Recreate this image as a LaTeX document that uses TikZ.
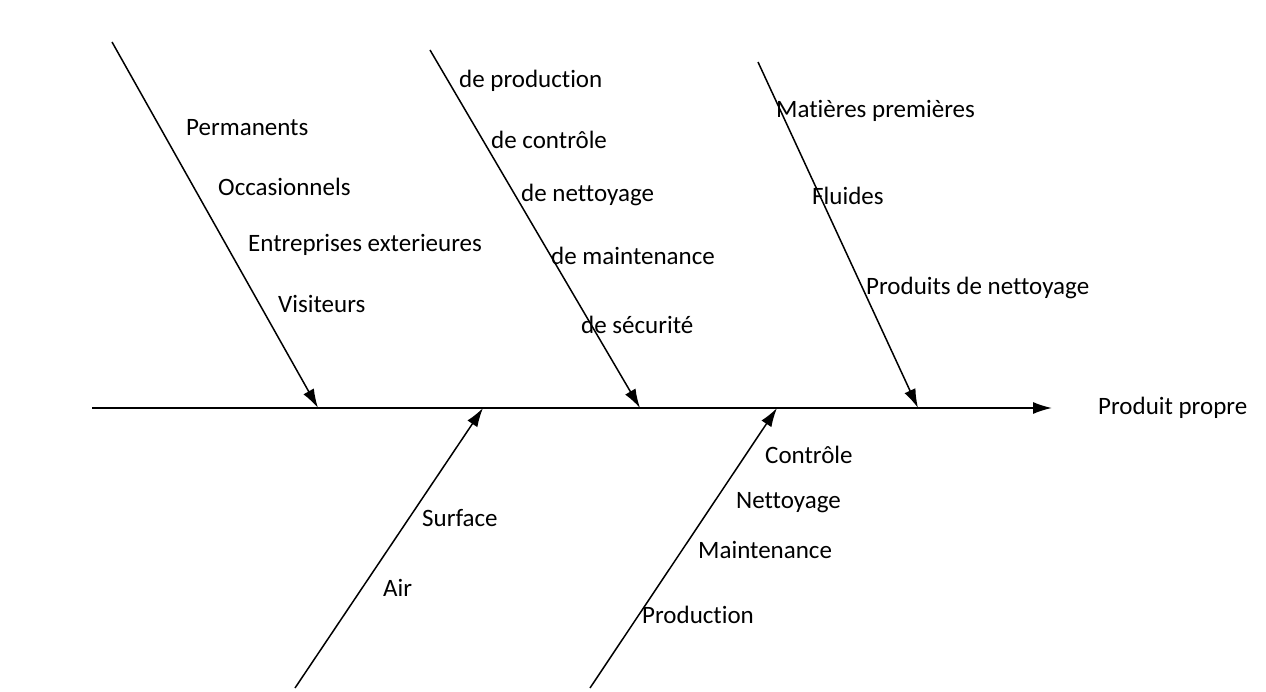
\documentclass[tikz,border=0pt]{standalone}
\usepackage{fontspec}
\setmainfont{Carlito}[Ligatures=NoCommon]
\usetikzlibrary{arrows.meta}
\tikzset{
  bone/.style={line width=1.5pt,-{Latex[length=19pt,width=12pt]}},
  cause/.style={anchor=west,inner sep=0pt,font=\fontsize{25}{30}\selectfont}
}
\begin{document}
\begin{tikzpicture}[x=1pt,y=-1pt]
  \useasboundingbox (0,0) rectangle (1266,692);
  % spine
  \coordinate (tail) at (92,408);
  \node[cause] (effet) at (1098,408) {Produit propre};
  \coordinate (head) at (1052,408);
  \draw[bone] (tail) -- (head);
  % upper bones
  \coordinate (m1) at (112,42);   \coordinate (h1) at (318,408);
  \coordinate (m2) at (430,50);   \coordinate (h2) at (640,408);
  \coordinate (m3) at (758,62);   \coordinate (h3) at (918,408);
  \draw[bone] (m1) -- (h1);
  \draw[bone] (m2) -- (h2);
  \draw[bone] (m3) -- (h3);
  % lower bones
  \coordinate (m4) at (295,688);  \coordinate (h4) at (483,408);
  \coordinate (m5) at (590,688);  \coordinate (h5) at (777,408);
  \draw[bone] (m4) -- (h4);
  \draw[bone] (m5) -- (h5);
  % labels
  \node[cause] (perm) at (186,128) {Permanents};
  \node[cause] (occa) at (218,187) {Occasionnels};
  \node[cause] (entr) at (248,245) {Entreprises exterieures};
  \node[cause] (visi) at (278,304) {Visiteurs};
  \node[cause] (prod) at (459,81) {de production};
  \node[cause] (cont) at (491,140) {de contrôle};
  \node[cause] (nett) at (521,195) {de nettoyage};
  \node[cause] (main) at (551,256) {de maintenance};
  \node[cause] (secu) at (581,325) {de sécurité};
  \node[cause] (mati) at (776,111) {Matières premières};
  \node[cause] (flui) at (812,196) {Fluides};
  \node[cause] (pnet) at (866,288) {Produits de nettoyage};
  \node[cause] (surf) at (422,518) {Surface};
  \node[cause] (air) at (383,588) {Air};
  \node[cause] (ctrl) at (765,455) {Contrôle};
  \node[cause] (ntt) at (736,503) {Nettoyage};
  \node[cause] (mnt) at (698,550) {Maintenance};
  \node[cause] (prd) at (642,615) {Production};
\end{tikzpicture}
\end{document}
